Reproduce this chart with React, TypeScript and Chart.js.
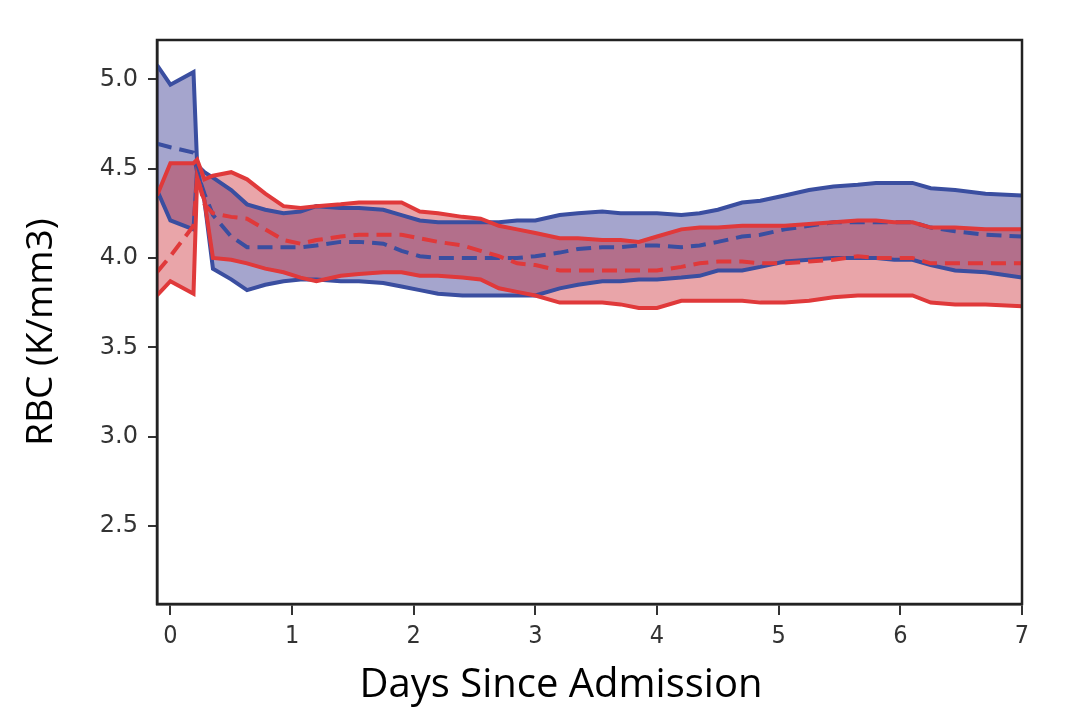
import React, { useEffect, useRef } from 'react';
import { Chart, registerables } from 'chart.js';

Chart.register(...registerables);

// days since admission (shared x positions for every band)
const DAYS = [
  -0.11, 0, 0.19, 0.22, 0.28, 0.35, 0.5, 0.63, 0.78, 0.93, 1.07, 1.2, 1.4, 1.55, 1.75,
  1.9, 2.05, 2.2, 2.4, 2.55, 2.7, 2.85, 3.0, 3.2, 3.35, 3.55, 3.7, 3.85, 4.0, 4.2,
  4.35, 4.5, 4.7, 4.85, 5.05, 5.25, 5.45, 5.65, 5.8, 5.95, 6.1, 6.25, 6.45, 6.7, 7.0,
];

const BLUE_UPPER = [
  5.08, 4.97, 5.04, 4.52, 4.48, 4.45, 4.38, 4.30, 4.27, 4.25, 4.26, 4.29, 4.28, 4.28, 4.27,
  4.24, 4.21, 4.20, 4.20, 4.20, 4.20, 4.21, 4.21, 4.24, 4.25, 4.26, 4.25, 4.25, 4.25, 4.24,
  4.25, 4.27, 4.31, 4.32, 4.35, 4.38, 4.40, 4.41, 4.42, 4.42, 4.42, 4.39, 4.38, 4.36, 4.35,
];
const BLUE_MEAN = [
  4.64, 4.62, 4.59, 4.48, 4.36, 4.24, 4.12, 4.06, 4.06, 4.06, 4.06, 4.07, 4.09, 4.09, 4.08,
  4.04, 4.01, 4.00, 4.00, 4.00, 4.00, 4.00, 4.01, 4.03, 4.05, 4.06, 4.06, 4.07, 4.07, 4.06,
  4.07, 4.09, 4.12, 4.13, 4.16, 4.18, 4.20, 4.20, 4.20, 4.20, 4.20, 4.17, 4.15, 4.13, 4.12,
];
const BLUE_LOWER = [
  4.38, 4.21, 4.16, 4.50, 4.32, 3.94, 3.88, 3.82, 3.85, 3.87, 3.88, 3.88, 3.87, 3.87, 3.86,
  3.84, 3.82, 3.80, 3.79, 3.79, 3.79, 3.79, 3.79, 3.83, 3.85, 3.87, 3.87, 3.88, 3.88, 3.89,
  3.90, 3.93, 3.93, 3.95, 3.98, 3.99, 4.00, 4.00, 4.00, 3.99, 3.99, 3.96, 3.93, 3.92, 3.89,
];

const RED_UPPER = [
  4.35, 4.53, 4.53, 4.55, 4.44, 4.46, 4.48, 4.44, 4.36, 4.29, 4.28, 4.29, 4.30, 4.31, 4.31,
  4.31, 4.26, 4.25, 4.23, 4.22, 4.18, 4.16, 4.14, 4.11, 4.11, 4.10, 4.10, 4.09, 4.12, 4.16,
  4.17, 4.17, 4.18, 4.18, 4.18, 4.19, 4.20, 4.21, 4.21, 4.20, 4.20, 4.17, 4.17, 4.16, 4.16,
];
const RED_MEAN = [
  3.92, 4.01, 4.18, 4.46, 4.30, 4.25, 4.23, 4.22, 4.16, 4.10, 4.08, 4.10, 4.12, 4.13, 4.13,
  4.13, 4.11, 4.09, 4.07, 4.04, 4.01, 3.97, 3.96, 3.93, 3.93, 3.93, 3.93, 3.93, 3.93, 3.95,
  3.97, 3.98, 3.98, 3.97, 3.97, 3.98, 3.99, 4.01, 4.00, 4.00, 4.00, 3.97, 3.97, 3.97, 3.97,
];
const RED_LOWER = [
  3.79, 3.87, 3.80, 4.45, 4.32, 4.00, 3.99, 3.97, 3.94, 3.92, 3.89, 3.87, 3.90, 3.91, 3.92,
  3.92, 3.90, 3.90, 3.89, 3.88, 3.83, 3.81, 3.79, 3.75, 3.75, 3.75, 3.74, 3.72, 3.72, 3.76,
  3.76, 3.76, 3.76, 3.75, 3.75, 3.76, 3.78, 3.79, 3.79, 3.79, 3.79, 3.75, 3.74, 3.74, 3.73,
];

const X_TICKS = [0, 1, 2, 3, 4, 5, 6, 7];
const Y_TICKS = [2.5, 3.0, 3.5, 4.0, 4.5, 5.0];

const X_TITLE = 'Days Since Admission';
const Y_TITLE = 'RBC (K/mm3)';

const BLUE = '#3a4ea0';
const RED = '#e0393a';

const pts = (ys: number[]) => DAYS.map((x, i) => ({ x, y: ys[i] }));

// matplotlib-like box around the plot area, plus the axis titles
const framePlugin = {
  id: 'frame',
  afterDatasetsDraw(chart: Chart) {
    const { ctx, chartArea: a } = chart;
    ctx.save();
    ctx.strokeStyle = '#222';
    ctx.lineWidth = 2.5;
    ctx.strokeRect(a.left, a.top, a.right - a.left, a.bottom - a.top);
    ctx.restore();
  },
  afterDraw(chart: Chart) {
    const { ctx } = chart;
    ctx.save();
    ctx.fillStyle = '#000';
    ctx.textAlign = 'center';
    ctx.font = '40px "Open Sans"';
    ctx.textBaseline = 'alphabetic';
    ctx.fillText(X_TITLE, 561, 697);
    ctx.translate(41, 332);
    ctx.rotate(-Math.PI / 2);
    ctx.font = '37px "Open Sans"';
    ctx.textBaseline = 'middle';
    ctx.fillText(Y_TITLE, 0, 0);
    ctx.restore();
  },
};

const line = (ys: number[], color: string, dashed: boolean, fill: any = false, bg = 'transparent') => ({
  data: pts(ys),
  borderColor: color,
  borderWidth: 4,
  borderDash: dashed ? [15, 8] : [],
  pointRadius: 0,
  tension: 0,
  fill,
  backgroundColor: bg,
});

const RBCChart: React.FC = () => {
  const chartRef = useRef<HTMLCanvasElement | null>(null);
  const chartInstanceRef = useRef<Chart | null>(null);

  useEffect(() => {
    if (!chartRef.current) return;
    const ctx = chartRef.current.getContext('2d');
    if (!ctx) return;
    if (chartInstanceRef.current) chartInstanceRef.current.destroy();

    chartInstanceRef.current = new Chart(ctx, {
      type: 'line',
      data: {
        datasets: [
          line(RED_UPPER, RED, false, 2, 'rgba(200,30,40,0.4)'),
          line(RED_MEAN, RED, true),
          line(RED_LOWER, RED, false),
          line(BLUE_UPPER, BLUE, false, 5, 'rgba(30,30,130,0.4)'),
          line(BLUE_MEAN, BLUE, true),
          line(BLUE_LOWER, BLUE, false),
        ] as any,
      },
      options: {
        animation: false,
        responsive: true,
        maintainAspectRatio: false,
        layout: { padding: { top: 40, right: 58, left: 0, bottom: 0 } },
        plugins: {
          legend: { display: false },
          tooltip: { enabled: false },
          filler: { drawTime: 'beforeDatasetsDraw' },
        },
        scales: {
          x: {
            type: 'linear',
            min: -0.11,
            max: 7,
            afterBuildTicks: (s: any) => {
              s.ticks = X_TICKS.map((v) => ({ value: v }));
            },
            afterFit: (s: any) => {
              s.height = 122;
            },
            ticks: {
              color: '#333',
              padding: 6,
              maxRotation: 0,
              font: { family: 'DejaVu Sans Condensed', size: 25 },
            },
            grid: { drawOnChartArea: false, tickLength: 11, color: '#333', lineWidth: 2 },
            border: { color: '#222', width: 2.5 },
          },
          y: {
            type: 'linear',
            min: 2.063,
            max: 5.22,
            afterBuildTicks: (s: any) => {
              s.ticks = Y_TICKS.map((v) => ({ value: v }));
            },
            afterFit: (s: any) => {
              s.width = 157;
            },
            ticks: {
              color: '#333',
              padding: 10,
              font: { family: 'DejaVu Sans', size: 24 },
              callback: (v: any) => Number(v).toFixed(1),
            },
            grid: { drawOnChartArea: false, tickLength: 9, color: '#333', lineWidth: 2 },
            border: { color: '#222', width: 2.5 },
          },
        },
      },
      plugins: [framePlugin],
    });

    return () => {
      if (chartInstanceRef.current) {
        chartInstanceRef.current.destroy();
        chartInstanceRef.current = null;
      }
    };
  }, []);

  return (
    <div style={{ position: 'absolute', left: 0, top: 0, width: 1080, height: 726, background: '#fff' }}>
      <canvas ref={chartRef} />
    </div>
  );
};

export default function App() {
  return <RBCChart />;
}
